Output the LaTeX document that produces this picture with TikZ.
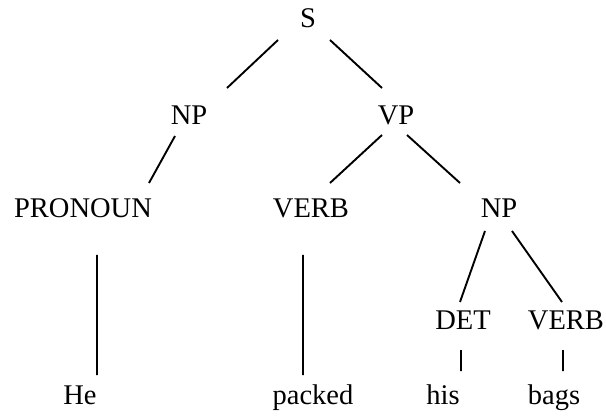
\documentclass[tikz,border=0pt]{standalone}
\usepackage{fontspec}
\setmainfont{Liberation Serif}

\tikzset{
	cat/.style    = {inner sep=0pt, text height=19pt, text depth=0pt},
	word/.style   = {inner sep=0pt, anchor=base},
	branch/.style = {line width=1.9pt},
}

\begin{document}
\begin{tikzpicture}[x=1pt, y=-1pt, font=\fontsize{28.5}{32}\selectfont]
		\useasboundingbox (0,0) rectangle (606,417);
		% categories
		\node[cat] (s)       at (308, 18) {S};
		\node[cat] (np)      at (189,115) {NP};
		\node[cat] (vp)      at (396,115) {VP};
		\node[cat] (pronoun) at ( 83,208) {PRONOUN};
		\node[cat] (verbA)   at (311,208) {VERB};
		\node[cat] (npB)     at (499,208) {NP};
		\node[cat] (det)     at (463,320) {DET};
		\node[cat] (verbB)   at (566,320) {VERB};
		% words
		\node[word] (he)     at ( 80,404) {He};
		\node[word] (packed) at (313,404) {packed};
		\node[word] (his)    at (443,404) {his};
		\node[word] (bags)   at (554,404) {bags};
		% branches
		\draw[branch] ([shift={(-30, 22)}]s.center)       -- ([shift={( 38,-27)}]np.center)
		              ([shift={( 22, 22)}]s.center)       -- ([shift={(-14,-27)}]vp.center)
		              ([shift={(-14, 21)}]np.center)      -- ([shift={( 66,-25)}]pronoun.center)
		              ([shift={(-14, 20)}]vp.center)      -- ([shift={( 19,-25)}]verbA.center)
		              ([shift={( 11, 20)}]vp.center)      -- ([shift={(-39,-25)}]npB.center)
		              ([shift={(-14, 23)}]npB.center)     -- ([shift={( -3,-18)}]det.center)
		              ([shift={( 13, 23)}]npB.center)     -- ([shift={( -4,-18)}]verbB.center)
		              ([shift={( 14, 47)}]pronoun.center) -- ([shift={( 17,-29)}]he.base)
		              ([shift={( -8, 47)}]verbA.center)   -- ([shift={(-10,-29)}]packed.base)
		              ([shift={( -2, 30)}]det.center)     -- ([shift={( 18,-33)}]his.base)
		              ([shift={( -3, 30)}]verbB.center)   -- ([shift={(  9,-33)}]bags.base);
	\end{tikzpicture}
\end{document}
